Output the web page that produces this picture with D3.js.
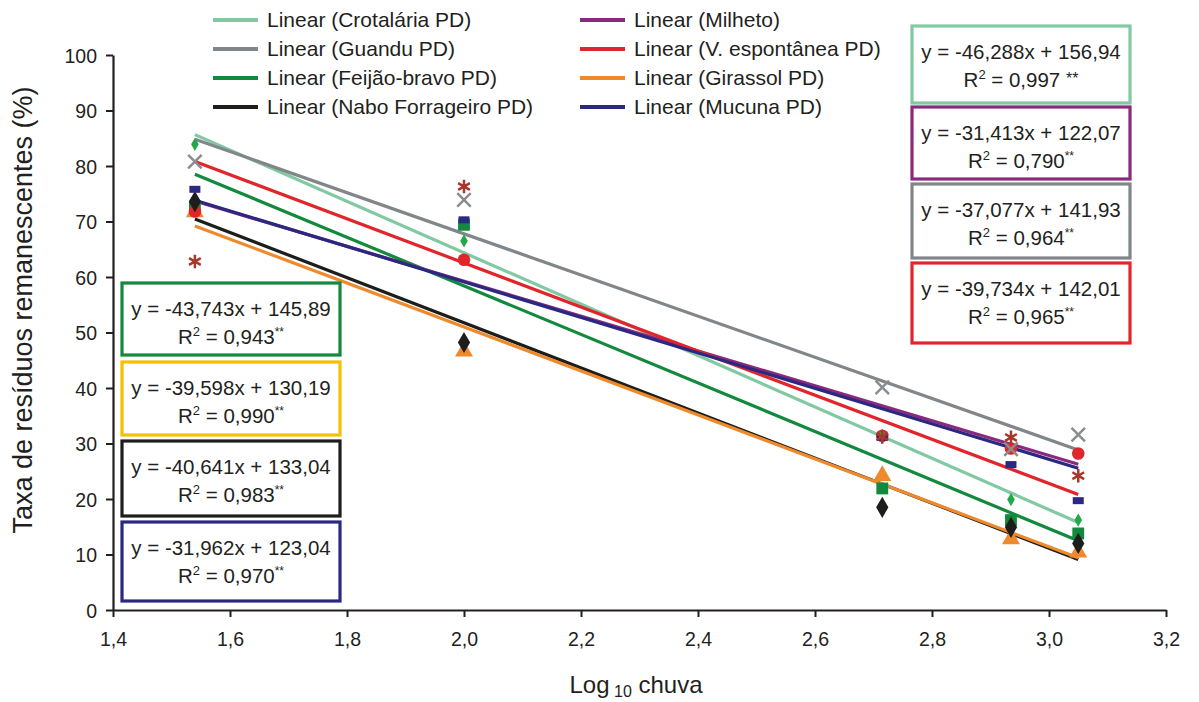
<!doctype html>
<html>
<head>
<meta charset="utf-8">
<script src="https://cdn.jsdelivr.net/npm/d3@7"></script>
<style>
  body { margin: 0; background: #fff; }
  text { font-family: Arial, "Liberation Sans", sans-serif; fill: #231f20; }
</style>
</head>
<body>
<script>
  // data
  var xValues = [1.54, 2.0, 2.715, 2.935, 3.05];
  var seriesNames = ["Crotalária PD", "Guandu PD", "Feijão-bravo PD", "Nabo Forrageiro PD",
                     "Milheto", "V. espontânea PD", "Girassol PD", "Mucuna PD"];
  var crotalaria = [83.9, 66.5, 31.5, 19.9, 16.2];
  var guandu     = [80.8, 73.9, 40.1, 29.0, 31.6];
  var feijao     = [72.5, 69.4, 21.9, 16.2, 13.8];
  var nabo       = [73.6, 48.2, 18.5, 14.9, 12.0];
  var milheto    = [62.8, 76.3, 31.2, 31.1, 24.2];
  var espontanea = [75.8, 70.3, 31.1, 26.2, 19.7];
  var girassol   = [71.7, 46.6, 24.2, 12.8, 10.4];
  var mucuna     = [71.8, 63.1, 31.4, 29.1, 28.2];
  var slopes     = [-46.288, -37.077, -43.743, -40.641, -31.413, -39.734, -39.598, -31.962];
  var intercepts = [156.94, 141.93, 145.89, 133.04, 122.07, 142.01, 130.19, 123.04];
  var r2         = [0.997, 0.964, 0.943, 0.983, 0.790, 0.965, 0.990, 0.970];
  var xTicks = [1.4, 1.6, 1.8, 2.0, 2.2, 2.4, 2.6, 2.8, 3.0, 3.2];
  var yTicks = [0, 10, 20, 30, 40, 50, 60, 70, 80, 90, 100];

  var seriesValues = [crotalaria, guandu, feijao, nabo, milheto, espontanea, girassol, mucuna];

  // styles
  var lineColors   = ["#82c9a3", "#80868a", "#12893d", "#1d1d1b", "#8b2a7d", "#e1262b", "#ef8a2c", "#2b2882"];
  var markerColors = ["#22a84a", "#8a8c8e", "#12893d", "#1d1d1b", "#a8372b", "#2b2882", "#ef8a2c", "#e1262b"];
  var markerTypes  = ["diamondSmall", "times", "square", "diamond", "asterisk", "dash", "triangle", "circle"];
  var boxColors    = ["#82c9a3", "#80868a", "#12893d", "#1d1d1b", "#8b2a7d", "#e1262b", "#f5c000", "#2b2882"];

  var width = 1199, height = 702;

  var svg = d3.select('body').append('svg')
      .attr('width', width)
      .attr('height', height)
      .style('background', '#fff');

  var x = d3.scaleLinear().domain([1.4, 3.2]).range([113, 1166]);
  var y = d3.scaleLinear().domain([0, 100]).range([610, 55]);

  var br = d3.formatLocale({decimal: ",", thousands: ".", grouping: [3], currency: ["R$", ""], minus: "-"});
  var fmtX = br.format(".1f"),
      fmtSlope = br.format(".3f"),
      fmtInt = br.format(".2f"),
      fmtR2 = br.format(".3f");

  // axes
  var xAxis = svg.append('g')
      .attr('transform', 'translate(0,' + y(0) + ')')
      .call(d3.axisBottom(x).tickValues(xTicks).tickFormat(fmtX).tickSize(7).tickSizeOuter(0).tickPadding(15));
  var yAxis = svg.append('g')
      .attr('transform', 'translate(' + x(1.4) + ',0)')
      .call(d3.axisLeft(y).tickValues(yTicks).tickFormat(function (d) { return d; }).tickSize(7).tickSizeOuter(0).tickPadding(9));

  [xAxis, yAxis].forEach(function (g) {
    g.select('.domain').attr('stroke', '#231f20').attr('stroke-width', 2.2);
    g.selectAll('.tick line').attr('stroke', '#231f20').attr('stroke-width', 2);
    g.selectAll('.tick text').style('font-size', '19.5px').attr('fill', '#231f20')
        .style('font-family', 'Arial, "Liberation Sans", sans-serif');
  });
  yAxis.selectAll('.tick text').attr('dy', '0.36em');

  // axis titles
  svg.append('text')
      .attr('transform', 'translate(32,310) rotate(-90)')
      .attr('text-anchor', 'middle')
      .style('font-size', '27px')
      .text('Taxa de resíduos remanescentes (%)');

  var xt = svg.append('text')
      .attr('x', 636).attr('y', 693)
      .attr('text-anchor', 'middle')
      .style('font-size', '24px');
  xt.append('tspan').text('Log');
  xt.append('tspan').attr('dy', 4).style('font-size', '16px').text(' 10');
  xt.append('tspan').attr('dy', -4).text(' chuva');

  // trend lines from the printed equations
  var x0 = xValues[0], x1 = xValues[xValues.length - 1];
  svg.append('g').selectAll('line')
      .data(slopes)
      .enter().append('line')
      .attr('x1', x(x0))
      .attr('y1', function (d, i) { return y(d * x0 + intercepts[i]); })
      .attr('x2', x(x1))
      .attr('y2', function (d, i) { return y(d * x1 + intercepts[i]); })
      .attr('stroke', function (d, i) { return lineColors[i]; })
      .attr('stroke-width', 3.2);

  // markers
  function markerPath(type) {
    switch (type) {
      case 'diamondSmall': return d3.symbol(d3.symbolDiamond, 50)();
      case 'diamond': return d3.symbol(d3.symbolDiamond, 130)();
      case 'square': return d3.symbol(d3.symbolSquare, 140)();
      case 'triangle': return d3.symbol(d3.symbolTriangle, 140)();
      case 'circle': return d3.symbol(d3.symbolCircle, 125)();
      case 'times': return d3.symbol(d3.symbolTimes, 120)();
      case 'asterisk': return d3.symbol(d3.symbolAsterisk, 130)();
      case 'dash': return 'M-5.5,-3.5h11v7h-11z';
    }
  }
  var strokeMarkers = {times: true, asterisk: true};
  var drawOrder = [6, 2, 7, 3, 5, 0, 1, 4];

  drawOrder.forEach(function (s) {
    var type = markerTypes[s];
    svg.append('g').selectAll('path')
        .data(seriesValues[s])
        .enter().append('path')
        .attr('transform', function (d, i) { return 'translate(' + x(xValues[i]) + ',' + y(d) + ')'; })
        .attr('d', markerPath(type))
        .attr('fill', strokeMarkers[type] ? 'none' : markerColors[s])
        .attr('stroke', strokeMarkers[type] ? markerColors[s] : 'none')
        .attr('stroke-width', 2.5);
  });

  // legend
  var legendCols = [[0, 1, 2, 3], [4, 5, 6, 7]];
  var legendX = [213, 580];
  var legendRowY = [20, 49, 78, 107];
  legendCols.forEach(function (col, c) {
    col.forEach(function (s, r) {
      var g = svg.append('g').attr('transform', 'translate(' + legendX[c] + ',' + legendRowY[r] + ')');
      g.append('line').attr('x1', 0).attr('x2', 45).attr('y1', 0).attr('y2', 0)
          .attr('stroke', lineColors[s]).attr('stroke-width', 4);
      g.append('text').attr('x', 54).attr('dy', '0.35em')
          .style('font-size', '21px')
          .text('Linear (' + seriesNames[s] + ')');
    });
  });

  // equation boxes
  function eqBox(s, bx, by, bw, bh, spaced) {
    var g = svg.append('g').attr('transform', 'translate(' + bx + ',' + by + ')');
    g.append('rect').attr('width', bw).attr('height', bh)
        .attr('fill', '#fff').attr('stroke', boxColors[s]).attr('stroke-width', 3.2);
    g.append('text').attr('x', bw / 2).attr('y', 33).attr('text-anchor', 'middle')
        .style('font-size', '20.5px')
        .text('y = ' + fmtSlope(slopes[s]) + 'x + ' + fmtInt(intercepts[s]));
    var t = g.append('text').attr('x', bw / 2).attr('y', 61).attr('text-anchor', 'middle')
        .style('font-size', '20.5px');
    t.append('tspan').text('R');
    t.append('tspan').attr('dy', -8).style('font-size', '13px').text('2');
    t.append('tspan').attr('dy', 8).text(' = ' + fmtR2(r2[s]) + (spaced ? ' ' : ''));
    t.append('tspan').attr('dy', spaced ? -3 : -8).style('font-size', spaced ? '16px' : '12px').text('**');
  }

  var rightBoxes = [0, 4, 1, 5], rightTops = [26, 107, 184, 263], rightH = [77, 72, 74, 80];
  rightBoxes.forEach(function (s, i) { eqBox(s, 912, rightTops[i], 218, rightH[i], i === 0); });
  var leftBoxes = [2, 6, 3, 7], leftTops = [283, 362, 441, 522], leftH = [72, 73, 75, 79];
  leftBoxes.forEach(function (s, i) { eqBox(s, 122, leftTops[i], 218, leftH[i], false); });
</script>
</body>
</html>
